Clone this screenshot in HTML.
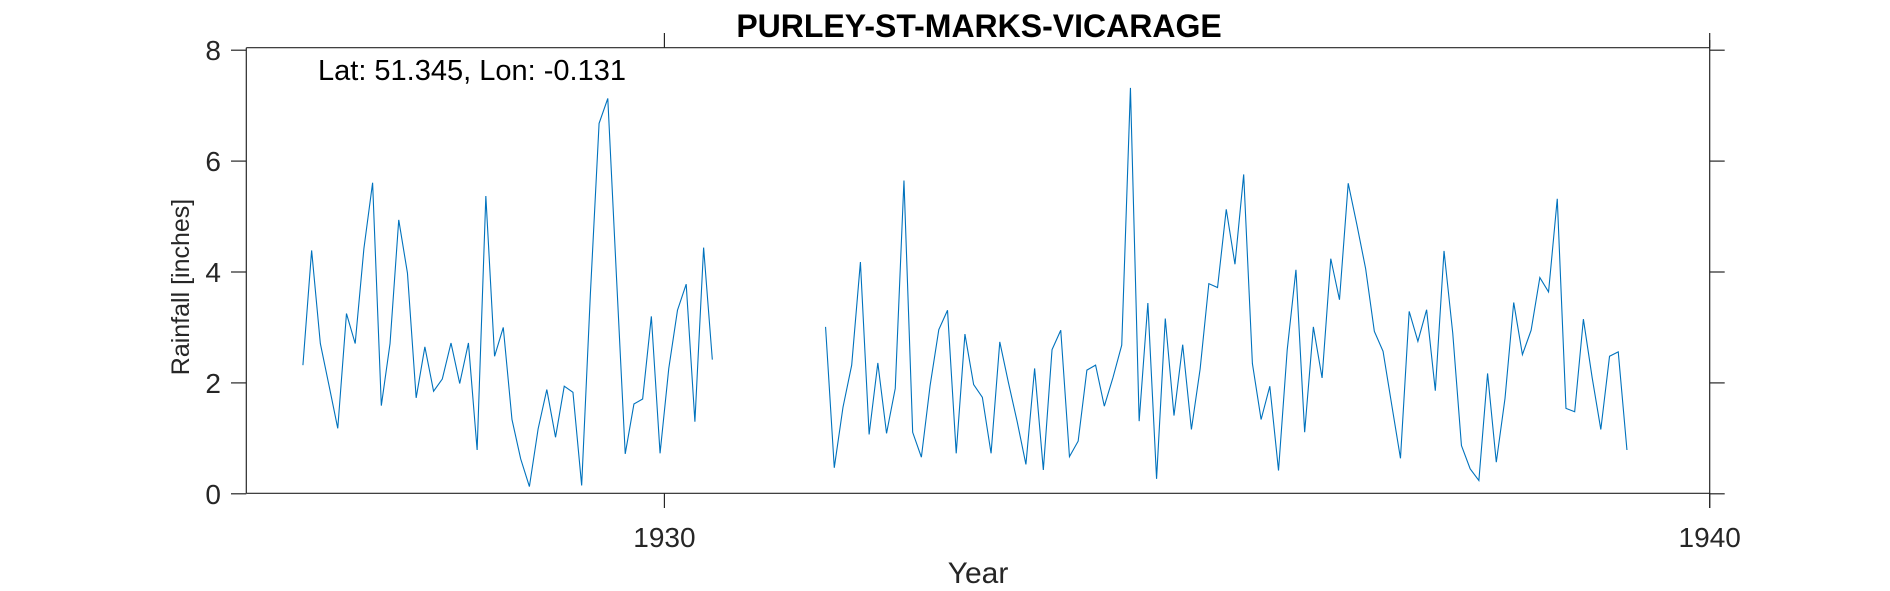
<!DOCTYPE html>
<html><head><meta charset="utf-8"><style>
html,body{margin:0;padding:0;background:#fff;}
svg{display:block;font-family:"Liberation Sans",Arial,sans-serif;}
</style></head><body>
<svg id="chart" width="1890" height="591" viewBox="0 0 1890 591">
<text x="979" y="37" text-anchor="middle" font-size="32" font-weight="bold" fill="#000">PURLEY-ST-MARKS-VICARAGE</text>
<g id="axes"></g>
<g id="series"></g>
<text x="318" y="80" font-size="29" fill="#000">Lat: 51.345, Lon: -0.131</text>
<text x="978" y="583" text-anchor="middle" font-size="30" fill="#262626">Year</text>
<text transform="translate(189,287) rotate(-90)" text-anchor="middle" font-size="25" fill="#262626">Rainfall [inches]</text>
</svg>
<script>
const seg1Start = [1926, 7];
const seg1Values = [2.32,4.39,2.71,1.95,1.18,3.25,2.71,4.42,5.61,1.59,2.71,4.94,3.98,1.73,2.65,1.85,2.07,2.72,1.99,2.72,0.79,5.37,2.48,3.0,1.34,0.63,0.13,1.17,1.88,1.02,1.94,1.83,0.15,3.6,6.68,7.13,3.9,0.72,1.62,1.71,3.2,0.73,2.26,3.31,3.78,1.3,4.44,2.42];
const seg2Start = [1931, 7];
const seg2Values = [3.01,0.47,1.56,2.32,4.18,1.07,2.36,1.09,1.9,5.65,1.11,0.66,1.95,2.96,3.31,0.73,2.88,1.97,1.74,0.73,2.74,2.0,1.3,0.53,2.26,0.43,2.6,2.95,0.67,0.95,2.23,2.32,1.58,2.1,2.68,7.32,1.31,3.44,0.27,3.16,1.41,2.69,1.16,2.25,3.79,3.72,5.13,4.14,5.76,2.35,1.34,1.94,0.42,2.6,4.04,1.11,3.01,2.09,4.24,3.5,5.6,4.85,4.06,2.93,2.57,1.6,0.64,3.29,2.75,3.32,1.86,4.38,2.9,0.87,0.45,0.24,2.17,0.57,1.72,3.45,2.51,2.95,3.9,3.64,5.32,1.54,1.48,3.15,2.1,1.16,2.48,2.56,0.79];
const xTicks = [1930, 1940];
const yTicks = [0, 2, 4, 6, 8];

const NS = "http://www.w3.org/2000/svg";
const X0 = 1926, X1 = 1940, PX0 = 246.3, PX1 = 1709.7;
const Y0 = 0, Y1 = 8, PY0 = 493.8, PY1 = 50.2;
function xs(t){ return PX0 + (t - X0) / (X1 - X0) * (PX1 - PX0); }
function ys(v){ return PY0 + (v - Y0) / (Y1 - Y0) * (PY1 - PY0); }
function mk(tag, attrs, parent){ const e = document.createElementNS(NS, tag); for (const k in attrs) e.setAttribute(k, attrs[k]); parent.appendChild(e); return e; }

const axes = document.getElementById('axes');
const C = "#262626";
let l;
l = mk('line', {x1:PX0, y1:47.7, x2:PX1, y2:47.7, stroke:C, 'stroke-width':1.2}, axes);


l = mk('line', {x1:PX0, y1:493.3, x2:PX1, y2:493.3, stroke:C, 'stroke-width':1.2}, axes);


l = mk('line', {x1:PX0, y1:47.7, x2:PX0, y2:493.3, stroke:C, 'stroke-width':1.2}, axes);


l = mk('line', {x1:PX1, y1:40, x2:PX1, y2:508, stroke:C, 'stroke-width':1.2}, axes);



yTicks.forEach(v => {
  const y = ys(v);
  const t1 = mk('line', {x1:231, y1:y, x2:PX0, y2:y, stroke:C, 'stroke-width':1.2}, axes);
  
  
  const t2 = mk('line', {x1:PX1, y1:y, x2:PX1+15, y2:y, stroke:C, 'stroke-width':1.2}, axes);
  
  
  const tx = mk('text', {x:221, y:y+10, 'text-anchor':'end', 'font-size':28, fill:C}, axes);
  tx.textContent = String(v);
  
  
});
xTicks.forEach(t => {
  const x = xs(t);
  const a = mk('line', {x1:x, y1:493.3, x2:x, y2:508, stroke:C, 'stroke-width':1.2}, axes);
  
  
  const b = mk('line', {x1:x, y1:33, x2:x, y2:47.7, stroke:C, 'stroke-width':1.2}, axes);
  
  
  const tx = mk('text', {x:x, y:547, 'text-anchor':'middle', 'font-size':28, fill:C}, axes);
  tx.textContent = String(t);
  
  
});

const series = document.getElementById('series');
function drawSeg(start, vals, name){
  const pts = vals.map((v, i) => {
    const t = start[0] + (start[1] - 1 + i + 0.5) / 12;
    return xs(t).toFixed(2) + ',' + ys(v).toFixed(2);
  }).join(' ');
  const p = mk('polyline', {points:pts, fill:'none', stroke:'#0072BD', 'stroke-width':1.1, 'stroke-linejoin':'miter'}, series);
  
  
}
drawSeg(seg1Start, seg1Values, 'rainfall-line-1926-1930');
drawSeg(seg2Start, seg2Values, 'rainfall-line-1931-1939');
</script>
</body></html>
